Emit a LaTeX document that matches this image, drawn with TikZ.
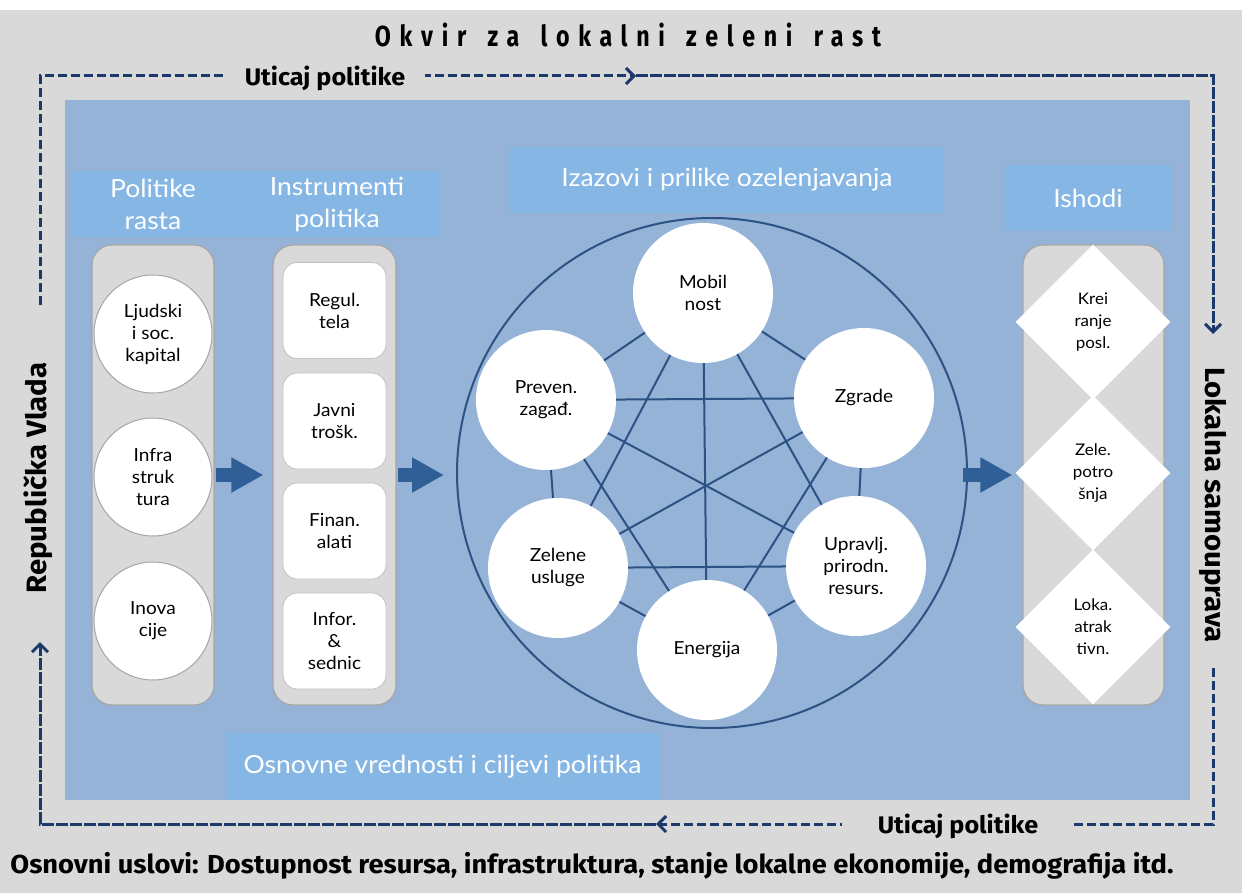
\documentclass[tikz,border=0pt]{standalone}
\usepackage{fontspec}
\setmainfont{Lato}
\setsansfont{Lato}[FakeStretch=1.06]
\newfontfamily\boldfont[FakeStretch=1.05]{Fira Sans}
\newfontfamily\titlefont[FakeStretch=0.8,LetterSpace=30,WordSpace=1.5]{Fira Sans}
\usepackage{xcolor}
\usepackage{tikz}
\usetikzlibrary{shapes.geometric, arrows.meta, positioning, calc}

\definecolor{bggrey}{HTML}{D9D9D9}
\definecolor{panelblue}{HTML}{95B3D7}
\definecolor{hdrblue}{HTML}{85B6E4}
\definecolor{colgrey}{HTML}{D9D9D9}
\definecolor{colborder}{HTML}{A6A6A6}
\definecolor{arrowblue}{HTML}{2F5F96}
\definecolor{webblue}{HTML}{2C5284}
\definecolor{loopblue}{HTML}{1B3A6B}

\begin{document}
\begin{tikzpicture}[
    x=1pt, y=-1pt,
    font=\sffamily,
    panel/.style={rectangle, fill=panelblue, minimum width=1125pt, minimum height=700pt, inner sep=0pt},
    header/.style={rectangle, fill=hdrblue, text=white, font=\sffamily\fontsize{25}{32}\selectfont, align=center, inner sep=0pt, minimum height=66pt},
    column/.style={rectangle, rounded corners=20pt, draw=colborder, line width=1.2pt, fill=colgrey, minimum height=460pt, inner sep=0pt},
    growth_item/.style={circle, draw=colborder, line width=1pt, fill=white, minimum size=118pt, inner sep=0pt, align=center, font=\sffamily\fontsize{18}{22}\selectfont},
    instr_item/.style={rectangle, rounded corners=14pt, draw=colborder!70, line width=0.8pt, fill=white, minimum width=103pt, minimum height=96pt, inner sep=0pt, align=center, font=\sffamily\fontsize{18}{22}\selectfont},
    topic/.style={circle, fill=white, minimum size=140pt, inner sep=0pt, align=center, font=\sffamily\fontsize{18}{22}\selectfont},
    outcome/.style={diamond, fill=white, minimum width=155pt, minimum height=155pt, inner sep=0pt, align=center, font=\sffamily\fontsize{16}{22}\selectfont},
    block_arrow/.style={-{Triangle[length=32pt, width=33pt]}, draw=arrowblue, line width=14pt},
    web/.style={draw=webblue, line width=2pt},
    barb/.style={-{Straight Barb[length=8pt, width=16pt, line width=3pt]}},
    loop_line/.style={draw=loopblue, line width=3pt, dash pattern=on 9pt off 4pt, barb},
    loop_line2/.style={draw=loopblue, line width=3pt, dash pattern=on 12pt off 2pt, barb},
    loop_label/.style={fill=bggrey, inner ysep=4pt, font=\boldfont\bfseries\fontsize{24}{26}\selectfont},
    side_label/.style={font=\boldfont\bfseries\fontsize{28}{30}\selectfont}
]
\useasboundingbox (0,0) rectangle (1242,893);
\fill[bggrey] (0,10) rectangle (1242,893);

% Nodes
\node (title) at (628,35) {\titlefont\bfseries\fontsize{29}{32}\selectfont Okvir za lokalni zeleni rast};
\node (panel) [panel] at (627.5,450) {};

\node (hdr_growth) [header, minimum width=162pt] at (153,204.5) {Politike\\rasta};
\node (hdr_instr) [header, minimum width=206pt] at (337,204.5) {Instrumenti\\politika};
\node (hdr_challenge) [header, minimum width=434pt] at (727,180) {Izazovi i prilike ozelenjavanja};
\node (hdr_outcome) [header, minimum width=166pt] at (1088,198) {Ishodi};
\node (hdr_values) [header, minimum width=435pt, minimum height=67pt] at (442.5,766.5) {Osnovne vrednosti i ciljevi politika};

\node (growth_col) [column, minimum width=122pt] at (153,475) {};
\node (growth_a) [growth_item] at (153,334) {Ljudski\\i soc.\\kapital};
\node (growth_b) [growth_item] at (153,477) {Infra\\struk\\tura};
\node (growth_c) [growth_item] at (153,621) {Inova\\cije};

\node (instr_col) [column, minimum width=123pt] at (334.5,475) {};
\node (instr_a) [instr_item] at (334.5,310.5) {Regul.\\tela};
\node (instr_b) [instr_item] at (334.5,421) {Javni\\trošk.};
\node (instr_c) [instr_item] at (334.5,531) {Finan.\\alati};
\node (instr_d) [instr_item] at (334.5,641) {Infor.\\\&\\sednic};

\node (ring) [circle, draw=webblue, line width=2pt, minimum size=510pt, inner sep=0pt] at (712,473) {};
\node (mob) [topic] at (703,293) {Mobil\\nost};
\node (zgr) [topic] at (864,398) {Zgrade};
\node (upr) [topic] at (856,566) {Upravlj.\\prirodn.\\resurs.};
\node (ene) [topic] at (707,650) {Energija};
\node (zel) [topic] at (558,568) {Zelene\\usluge};
\node (pre) [topic] at (546,400) {Preven.\\zagađ.};

\node (outcome_col) [column, minimum width=141pt] at (1093.5,475) {};
\node (out_a) [outcome] at (1093,322) {Krei\\ranje\\posl.};
\node (out_b) [outcome] at (1093,473) {Zele.\\potro\\šnja};
\node (out_c) [outcome] at (1093,627) {Loka.\\atrak\\tivn.};

\node (gov) [side_label, rotate=90] at (38,478) {Republička Vlada};
\node (local) [side_label, rotate=-90] at (1213,505) {Lokalna samouprava};

\coordinate (lv_start) at (40,305);
\coordinate (tl) at (40,76);
\coordinate (tm) at (636,76);
\coordinate (tr) at (1213,76);
\coordinate (rv_end) at (1213,334);
\coordinate (rv_start) at (1213,668);
\coordinate (br) at (1213,824);
\coordinate (bm) at (656,824);
\coordinate (bl) at (40,824);
\coordinate (lv_end) at (40,642);

% Paths
\foreach \a/\b in {mob/zgr, mob/upr, mob/ene, mob/zel, mob/pre, zgr/upr, zgr/ene, zgr/zel, zgr/pre, upr/ene, upr/zel, upr/pre, ene/zel, ene/pre, zel/pre}
    \draw [web] (\a) -- (\b);

\draw [block_arrow, shorten <=1pt, shorten >=9pt] (growth_col.east) -- (instr_col.west);
\draw [block_arrow, shorten <=1pt, shorten >=12pt] (instr_col.east) -- (instr_col.east -| ring.west);
\draw [block_arrow, shorten <=-5pt, shorten >=10pt] (ring.east |- outcome_col.west) -- (outcome_col.west);

\draw [loop_line] (lv_start) -- (tl) -- (tm);
\draw [loop_line2] (tm) -- (tr) -- (rv_end);
\draw [loop_line] (rv_start) -- (br) -- (bm);
\draw [loop_line2] (bm) -- (bl) -- (lv_end);

\node (top_lbl) [loop_label, inner xsep=20pt] at (325,78) {Uticaj politike};
\node (bottom_lbl) [loop_label, inner xsep=36pt] at (958,826) {Uticaj politike};

\node (basis) [font=\boldfont\bfseries\fontsize{26}{28}\selectfont] at (592,866) {Osnovni uslovi: Dostupnost resursa, infrastruktura, stanje lokalne ekonomije, demografija itd.};

\end{tikzpicture}
\end{document}
